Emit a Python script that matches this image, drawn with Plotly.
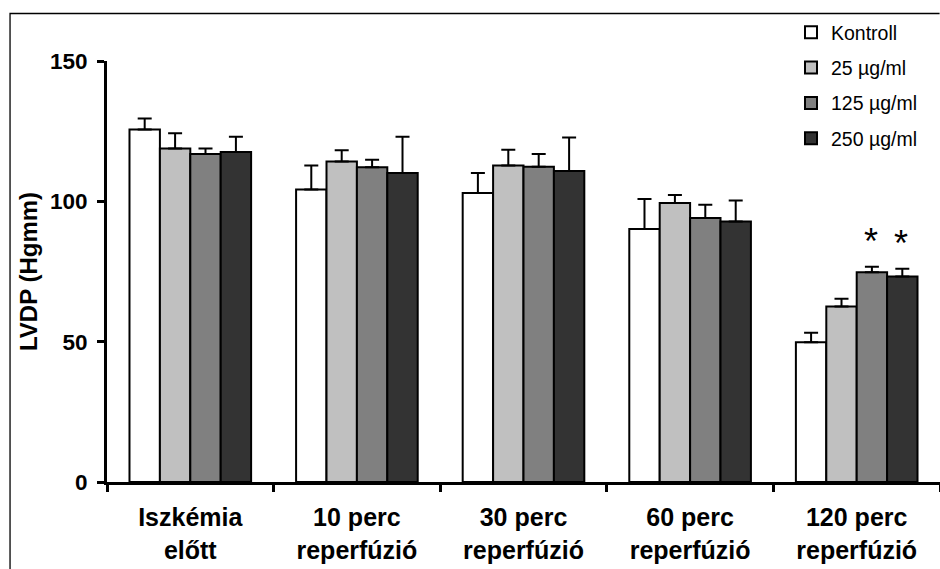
import plotly.graph_objects as go

# LVDP values (Hgmm) per time point, mean and SEM for each treatment group
categories = ["Iszkémia<br>előtt", "10 perc<br>reperfúzió", "30 perc<br>reperfúzió",
              "60 perc<br>reperfúzió", "120 perc<br>reperfúzió"]
series_names = ["Kontroll", "25 µg/ml", "125 µg/ml", "250 µg/ml"]

kontroll = [125.6, 104.2, 103.0, 90.1, 49.8]
kontroll_sem = [3.9, 8.6, 7.1, 10.7, 3.4]
dose_25 = [118.8, 114.2, 112.8, 99.4, 62.5]
dose_25_sem = [5.5, 4.0, 5.6, 2.9, 2.8]
dose_125 = [116.9, 112.1, 112.3, 94.1, 74.7]
dose_125_sem = [1.9, 2.7, 4.6, 4.7, 2.0]
dose_250 = [117.6, 110.1, 110.8, 92.8, 73.2]
dose_250_sem = [5.4, 12.9, 11.9, 7.5, 2.8]

# significance markers: (series index, category index)
significant = [(2, 4), (3, 4)]

y_ticks = [0, 50, 100, 150]

colors = ["#ffffff", "#c0c0c0", "#808080", "#333333"]
means = [kontroll, dose_25, dose_125, dose_250]
sems = [kontroll_sem, dose_25_sem, dose_125_sem, dose_250_sem]

FONT = "Liberation Sans, Arial, sans-serif"

fig = go.Figure()
for i, name in enumerate(series_names):
    fig.add_trace(go.Bar(
        name=name,
        x=categories,
        y=means[i],
        legendgroup=name,
        marker=dict(color=colors[i], line=dict(color="black", width=2)),
        error_y=dict(type="data", symmetric=False, array=sems[i],
                     arrayminus=[0] * len(sems[i]),
                     color="black", thickness=2, width=7),
    ))

# bar offsets within a group for the asterisks
n_series = len(series_names)
plot_w = 833
cat_w = plot_w / len(categories)
bargap = 0.27
bar_w = cat_w * (1 - bargap) / n_series
for s, c in significant:
    offset = (s - (n_series - 1) / 2) * bar_w
    fig.add_annotation(
        x=categories[c], y=means[s][c] + sems[s][c],
        text="*", showarrow=False, xshift=offset - 1, yshift=25,
        yanchor="middle", xanchor="center",
        font=dict(family=FONT, size=36, color="black"),
    )

# outer frame: top and left edges as one open path
fig.add_shape(type="path", xref="paper", yref="paper",
              path="M -0.1164,-0.2067 L -0.1164,1.1128 L 0.9995,1.1128",
              line=dict(color="black", width=1.3))

fig.update_layout(
    width=940, height=569,
    margin=dict(l=107, r=0, t=61, b=87),
    paper_bgcolor="white", plot_bgcolor="white",
    barmode="group", bargap=bargap, bargroupgap=0,
    font=dict(family=FONT, color="black"),
    showlegend=True,
    legend=dict(
        x=(791 - 107) / 833, y=(482 - 13) / 421, xanchor="left", yanchor="top",
        traceorder="grouped", tracegroupgap=7,
        font=dict(family=FONT, size=19.5, color="black"),
        bgcolor="rgba(0,0,0,0)",
    ),
    xaxis=dict(
        showline=True, linecolor="black", linewidth=3,
        ticks="outside", tickson="boundaries", ticklen=7, tickwidth=3,
        tickcolor="black",
        tickfont=dict(family=FONT, size=25, weight="bold", color="black"),
        ticklabelstandoff=11,
        showgrid=False, zeroline=False,
    ),
    yaxis=dict(
        range=[0, 150], tickvals=y_ticks,
        showline=True, linecolor="black", linewidth=3,
        ticks="outside", ticklen=7, tickwidth=3, tickcolor="black",
        tickfont=dict(family=FONT, size=22.5, weight="bold", color="black"),
        ticklabelstandoff=5,
        showgrid=False, zeroline=False,
        title=dict(text="LVDP (Hgmm)", standoff=6,
                   font=dict(family=FONT, size=24, weight="bold", color="black")),
    ),
)

fig.write_html("out.html")
